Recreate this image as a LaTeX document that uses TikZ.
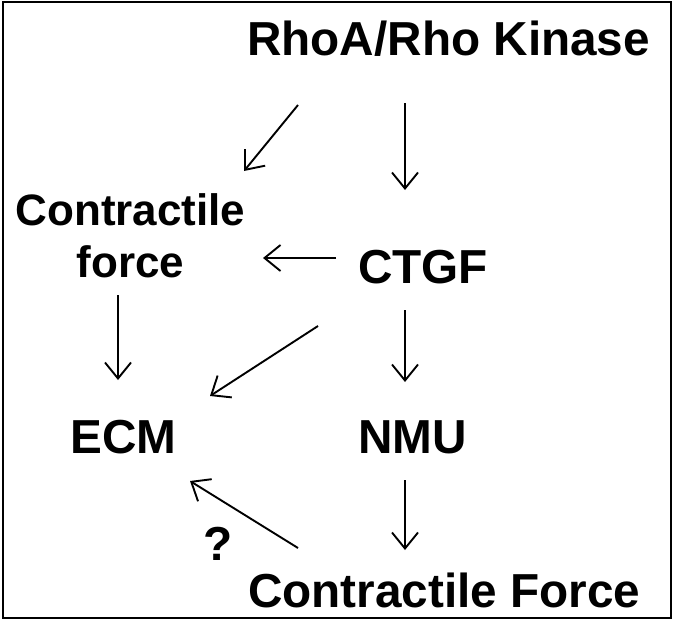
\documentclass[tikz,border=0pt]{standalone}
\usepackage{fontspec}
\setmainfont{Liberation Sans}
\usetikzlibrary{arrows.meta}
\begin{document}
\begin{tikzpicture}[x=1pt,y=-1pt,
  lbl/.style={font=\fontsize{47.7}{55}\selectfont\bfseries, inner sep=0pt, anchor=base west},
  lbls/.style={font=\fontsize{44}{55}\selectfont\bfseries, inner sep=0pt, anchor=base},
  arr/.style={line width=1.9pt, -{Straight Barb[length=16pt,width=26pt,line width=1.9pt]}}]
\useasboundingbox (0,0) rectangle (674,621);
\draw[line width=2pt] (3,2) rectangle (671,618);
\node[lbl] (rho) at (247,55) {RhoA/Rho Kinase};
\node[lbls] (c1) at (130.5,225) {Contractile};
\node[lbls] (c2) at (130.5,277) {force};
\node[lbl] (ctgf) at (358,283) {CTGF};
\node[lbl] (ecm) at (70,453) {ECM};
\node[lbl] (nmu) at (358,453) {NMU};
\node[lbl] (cf) at (248,607) {Contractile Force};
\node[lbl] (q) at (203,560) {?};
% arrow end points
\coordinate (a1s) at (298,105); \coordinate (a1e) at (244,171);
\coordinate (a2s) at (405,103); \coordinate (a2e) at (405,190);
\coordinate (a3s) at (336,258); \coordinate (a3e) at (263,258);
\coordinate (a4s) at (118,295); \coordinate (a4e) at (118,380);
\coordinate (a5s) at (318,326); \coordinate (a5e) at (210,396);
\coordinate (a6s) at (405,310); \coordinate (a6e) at (405,382);
\coordinate (a7s) at (405,480); \coordinate (a7e) at (405,550);
\coordinate (a8s) at (298,548); \coordinate (a8e) at (190,481);
\draw[arr] (a1s) -- (a1e);
\draw[arr] (a2s) -- (a2e);
\draw[arr] (a3s) -- (a3e);
\draw[arr] (a4s) -- (a4e);
\draw[arr] (a5s) -- (a5e);
\draw[arr] (a6s) -- (a6e);
\draw[arr] (a7s) -- (a7e);
\draw[arr] (a8s) -- (a8e);
\end{tikzpicture}
\end{document}
